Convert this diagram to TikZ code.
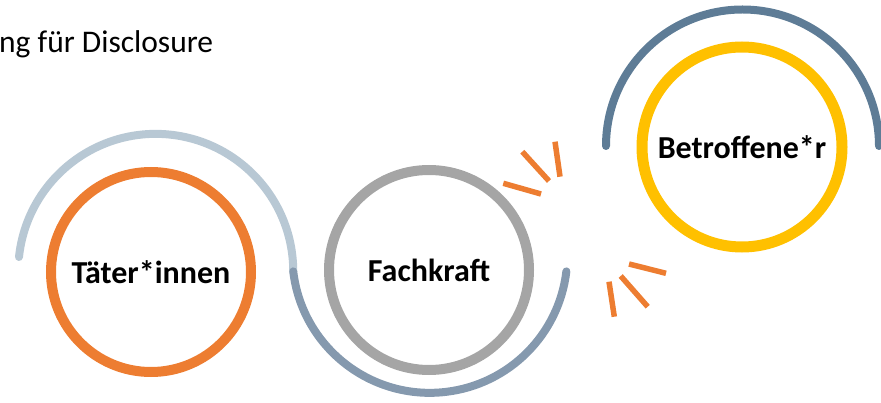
\documentclass[tikz,border=0pt]{standalone}
\usepackage{fontspec}
\setmainfont{Carlito}
\definecolor{ringorange}{HTML}{ED7D31}
\definecolor{ringgray}{HTML}{A5A5A5}
\definecolor{ringyellow}{HTML}{FFC000}
\definecolor{arclight}{HTML}{B8C8D4}
\definecolor{arcmid}{HTML}{8599AE}
\definecolor{arcdark}{HTML}{5E7C96}
\tikzset{
  ring/.style={circle, draw, line width=10pt, minimum size=200pt, inner sep=0pt,
    font=\fontsize{32}{38}\selectfont\bfseries},
  swoop/.style={line width=8pt, line cap=round},
  spark/.style={line width=5.5pt, ringorange},
}
\begin{document}
\begin{tikzpicture}[x=1pt,y=-1pt]
\useasboundingbox (0,0) rectangle (881,403);

% heading (continues beyond the left edge)
\node[anchor=base west, inner sep=0pt, font=\fontsize{31.5}{37}\selectfont] (head) at (-1,53) {ng für Disclosure};

% swooping arcs behind the rings
\coordinate (a0) at (19,257);
\draw[swoop, arclight] (a0) arc[start angle=186, end angle=360, radius=137.5] coordinate (a1);
\draw[swoop, arcmid] (a1) arc[start angle=173.3, end angle=6.7, radius=137.5] coordinate (a2);
\coordinate (b0) at (606,146);
\draw[swoop, arcdark] (b0) arc[start angle=180, end angle=360, radius=136.5];

% rings
\node[ring, draw=ringorange] (taeter) at (151,272) {Täter*innen};
\node[ring, draw=ringgray] (fach) at (429,270) {Fachkraft};
\node[ring, draw=ringyellow, line width=11pt] (betr) at (742,147) {Betroffene*r};

% sparks
\draw[spark] (503.3,183.3) -- (541,194);
\draw[spark] (522.3,151.7) -- (549,181);
\draw[spark] (555,141.7) -- (560,176.7);
\draw[spark] (629,264) -- (666,273.3);
\draw[spark] (620.7,276) -- (647.7,306.7);
\draw[spark] (609,281.7) -- (614.3,316.7);
\end{tikzpicture}
\end{document}
